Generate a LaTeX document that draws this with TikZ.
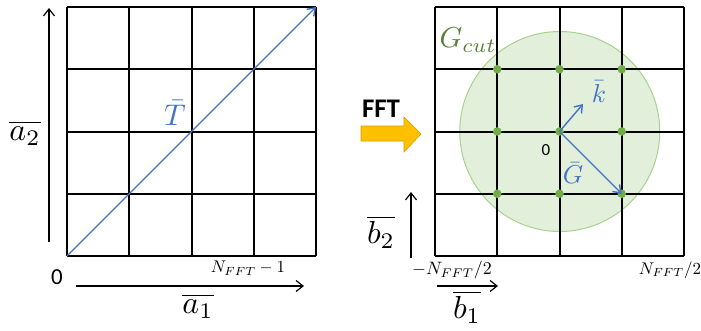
\documentclass[tikz,border=0pt]{standalone}
\usepackage{fontspec}
\setmainfont{Carlito}
\usetikzlibrary{arrows.meta}
\definecolor{myblue}{HTML}{4472C4}
\definecolor{circfill}{HTML}{E2EFDA}
\definecolor{circline}{HTML}{A9D18E}
\definecolor{dotgreen}{HTML}{70AD47}
\definecolor{textgreen}{HTML}{548235}
\definecolor{fftorange}{HTML}{FFC000}
\definecolor{fftedge}{HTML}{D99A00}
\newcommand{\mymath}[2]{\scalebox{#1}{\fontsize{10}{12}\selectfont$#2$}}
\tikzset{
  gridline/.style={line width=2bp, black},
  axisarrow/.style={line width=1.2bp, black, -{Straight Barb[length=7bp,width=11bp,line width=1.2bp]}},
  bluearrow/.style={line width=1.4bp, myblue, -{Straight Barb[length=7bp,width=10bp,line width=1.4bp]}},
  lbl/.style={inner sep=0pt},
  gdot/.style={circle, fill=dotgreen, inner sep=0pt, minimum size=8.5bp},
}
\begin{document}
\begin{tikzpicture}[x=1bp,y=-1bp]
\useasboundingbox (0,0) rectangle (701,330);
% ---------- left grid
\foreach \i in {0,...,4} {
  \draw[gridline] (67+62.25*\i,7) -- (67+62.25*\i,256);
  \draw[gridline] (67,7+62.25*\i) -- (316,7+62.25*\i);
}
\coordinate (L0) at (67,256);
\coordinate (L1) at (316,7);
\draw[bluearrow] (L0) -- (L1);
\node[lbl, text=myblue] (T) at (175,113) {\mymath{3.0}{\bar{T}}};
% left axes
\coordinate (va0) at (49,242);
\coordinate (va1) at (49,8);
\draw[axisarrow] (va0) -- (va1);
\coordinate (ha0) at (76,286);
\coordinate (ha1) at (304,286);
\draw[axisarrow] (ha0) -- (ha1);
\node[lbl] (a2) at (25,133) {\mymath{3.2}{\overline{a_2}}};
\node[lbl] (a1) at (198,306) {\mymath{3.2}{\overline{a_1}}};
\node[lbl, font=\fontsize{23}{26}\selectfont] (zeroL) at (57,277) {0};
\node[lbl] (nm1) at (248,268) {\mymath{1.7}{N_{FFT}-1}};
% ---------- FFT arrow
\filldraw[fill=fftorange, draw=fftedge, line width=0.6bp]
  (361,126) -- (404,126) -- (404,117) -- (421,134) -- (404,152) -- (404,141) -- (361,141) -- cycle;
\node[lbl, font=\fontsize{27}{30}\selectfont\bfseries] (fft) at (381,109) {FFT};
% ---------- right grid
\coordinate (C) at (559.75,131.5);
\filldraw[fill=circfill, draw=circline, line width=1bp] (C) circle[radius=100];
\foreach \i in {0,...,4} {
  \draw[gridline] (435+62.25*\i,7) -- (435+62.25*\i,256);
  \draw[gridline] (435,7+62.25*\i) -- (684,7+62.25*\i);
}
\foreach \i in {1,2,3} {
  \foreach \j in {1,2,3} {
    \node[gdot] (d\i\j) at (435+62.25*\i,7+62.25*\j) {};
  }
}
\node[lbl, text=textgreen] (gcut) at (468,40) {\mymath{2.9}{G_{cut}}};
\draw[bluearrow] (d22.center) -- (583,104) coordinate (kend);
\draw[bluearrow] (d22.center) -- (d33.center);
\node[lbl, text=myblue] (k) at (599,92) {\mymath{2.6}{\bar{k}}};
\node[lbl, text=myblue] (G) at (573,173) {\mymath{2.6}{\bar{G}}};
\node[lbl, font=\fontsize{17}{20}\selectfont] (zeroR) at (546,150) {0};
% right axes
\coordinate (vb0) at (411,258);
\coordinate (vb1) at (411,192);
\draw[axisarrow] (vb0) -- (vb1);
\coordinate (hb0) at (437,286);
\coordinate (hb1) at (498,286);
\draw[axisarrow] (hb0) -- (hb1);
\node[lbl] (b2) at (381,232) {\mymath{3.2}{\overline{b_2}}};
\node[lbl] (b1) at (467,307) {\mymath{3.2}{\overline{b_1}}};
\node[lbl] (nmin) at (452,270) {\mymath{1.8}{-N_{FFT}/2}};
\node[lbl] (nmax) at (670,270) {\mymath{1.7}{N_{FFT}/2}};
\end{tikzpicture}
\end{document}
